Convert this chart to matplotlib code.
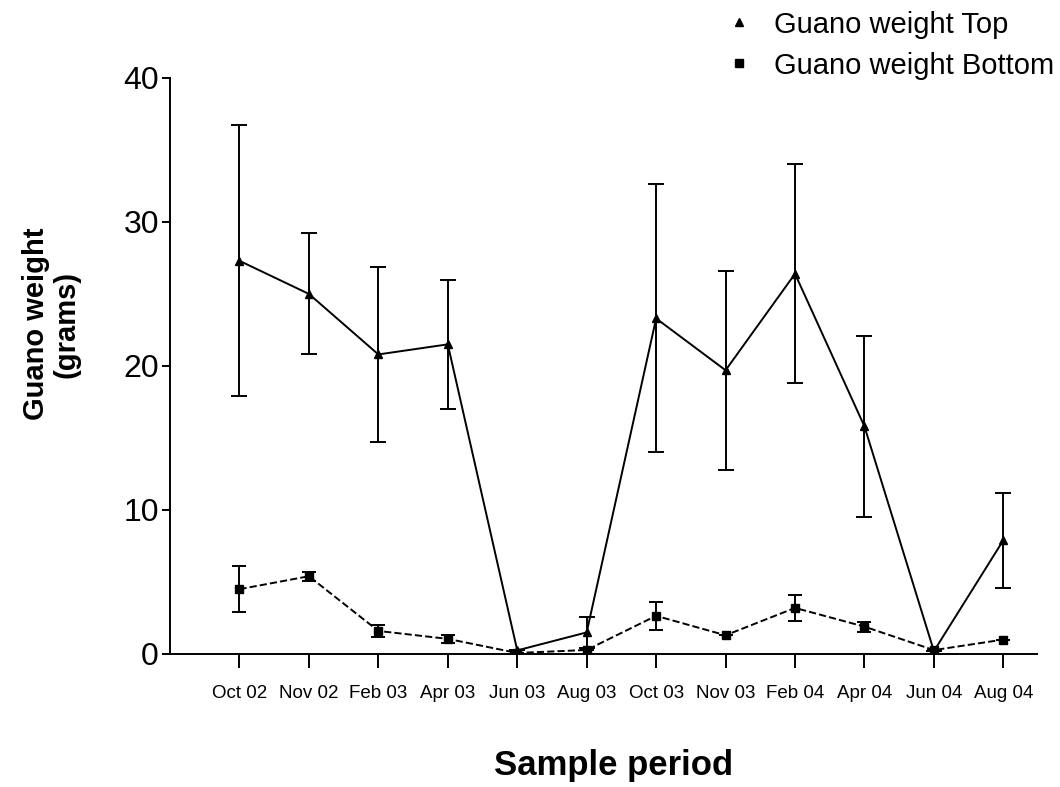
import matplotlib
matplotlib.use("Agg")
import matplotlib.pyplot as plt
from matplotlib.lines import Line2D

plt.rcParams['font.family'] = ['Liberation Sans', 'DejaVu Sans']

periods = ['Oct 02', 'Nov 02', 'Feb 03', 'Apr 03', 'Jun 03', 'Aug 03',
           'Oct 03', 'Nov 03', 'Feb 04', 'Apr 04', 'Jun 04', 'Aug 04']

# Guano weight, top (mean and error)
top_mean = [27.3, 25.0, 20.8, 21.5, 0.25, 1.5, 23.3, 19.7, 26.4, 15.8, 0.2, 7.9]
top_err = [9.4, 4.2, 6.1, 4.5, 0.0, 1.1, 9.3, 6.9, 7.6, 6.3, 0.0, 3.3]

# Guano weight, bottom (mean and error)
bot_mean = [4.5, 5.4, 1.6, 1.05, 0.07, 0.28, 2.65, 1.3, 3.2, 1.9, 0.27, 1.0]
bot_err = [1.6, 0.3, 0.4, 0.3, 0.0, 0.0, 0.95, 0.0, 0.9, 0.35, 0.0, 0.0]

x = list(range(len(periods)))

fig = plt.figure(figsize=(10.6, 7.87), dpi=100)
ax = fig.add_axes([0.1604, 0.169, 0.8176, 0.732])

ax.errorbar(x, top_mean, yerr=top_err, color='black', lw=1.4, marker='^',
            markersize=5.5, capsize=6, capthick=1.4, elinewidth=1.4)
ax.errorbar(x, bot_mean, yerr=bot_err, color='black', lw=1.4, ls='--',
            marker='s', markersize=6, capsize=5, capthick=1.4, elinewidth=1.4)

ax.set_xlim(-1, 11.48)
ax.set_ylim(0, 40)
ax.set_yticks([0, 10, 20, 30, 40])
ax.set_xticks(x)
ax.set_xticklabels(periods, fontsize=13.5)
ax.tick_params(axis='y', labelsize=23, length=6, width=1.4, direction='out', pad=2)
ax.tick_params(axis='x', length=10, width=1.4, direction='out', pad=12)

for s in ['top', 'right']:
    ax.spines[s].set_visible(False)
for s in ['left', 'bottom']:
    ax.spines[s].set_linewidth(1.4)

ax.set_xlabel('Sample period', fontsize=25, fontweight='bold', va='center')
ax.xaxis.set_label_coords(0.512, -0.194)
fig.text(51 / 1060, 1 - 324 / 787, 'Guano weight\n(grams)', fontsize=21,
         fontweight='bold', rotation=90, ha='center', va='center',
         linespacing=1.1)

handles = [Line2D([], [], color='black', marker='^', ls='none', markersize=5.5),
           Line2D([], [], color='black', marker='s', ls='none', markersize=5.5)]
fig.legend(handles, ['Guano weight Top', 'Guano weight Bottom'],
           loc='upper right', bbox_to_anchor=(1.0195, 1.02), frameon=False,
           fontsize=21, handletextpad=0.6, labelspacing=0.45, handlelength=1.2)

fig.savefig('out.png', dpi=100)
